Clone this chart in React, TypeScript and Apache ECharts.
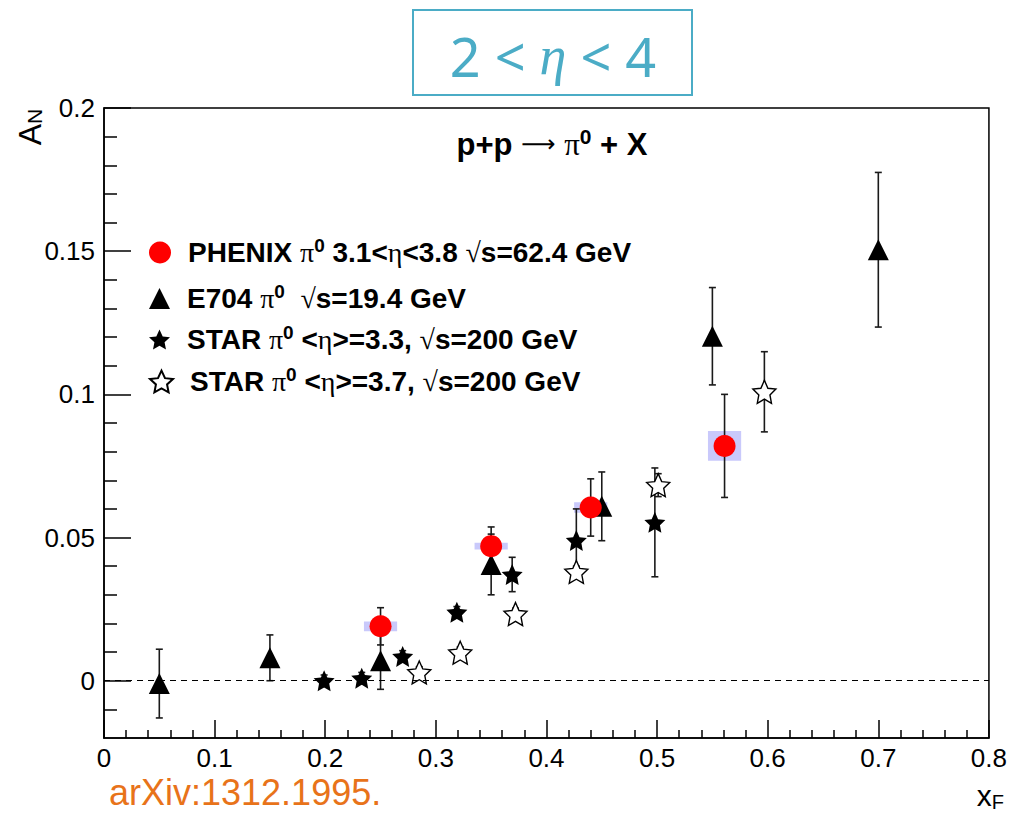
import React, { useEffect, useRef } from "react";
import * as echarts from "echarts";

// A_N versus x_F for forward pi0 production in polarized p+p collisions
const phenixPoints = [
  [0.25, 0.019],
  [0.35, 0.047],
  [0.44, 0.0605],
  [0.561, 0.082],
];
const phenixStatErr = [0.0065, 0.0067, 0.01, 0.018];
const phenixSysHalfWidth = [0.015, 0.015, 0.015, 0.015];
const phenixSysErr = [0.0017, 0.0012, 0.0018, 0.0052];

const e704Points = [
  [0.05, -0.001],
  [0.15, 0.008],
  [0.25, 0.007],
  [0.35, 0.0406],
  [0.45, 0.0609],
  [0.55, 0.1203],
  [0.7, 0.1505],
];
const e704Err = [0.012, 0.008, 0.01, 0.0106, 0.012, 0.017, 0.027];

const star33Points = [
  [0.199, 0.0],
  [0.233, 0.0009],
  [0.27, 0.0085],
  [0.319, 0.0239],
  [0.369, 0.0371],
  [0.427, 0.049],
  [0.498, 0.0553],
];
const star33Err = [0.002, 0.002, 0.002, 0.002, 0.006, 0.011, 0.019];

const star37Points = [
  [0.285, 0.0029],
  [0.322, 0.0098],
  [0.372, 0.0233],
  [0.427, 0.038],
  [0.501, 0.0683],
  [0.597, 0.1009],
];
const star37Err = [0.002, 0.002, 0.002, 0.002, 0.004, 0.014];

const yMajorTicks = [0, 0.05, 0.1, 0.15, 0.2];
const yMinorTicks = [
  -0.01, 0.01, 0.02, 0.03, 0.04, 0.06, 0.07, 0.08, 0.09, 0.11, 0.12, 0.13,
  0.14, 0.16, 0.17, 0.18, 0.19,
];

const STAR_PATH =
  "path://M0,-10L2.9,-3.7L9.511,-3.09L4.6,1.5L5.878,8.09L0,4.8L-5.878,8.09L-4.6,1.5L-9.511,-3.09L-2.9,-3.7Z";

const SANS = "'Liberation Sans', Arial, Helvetica, sans-serif";
const SERIF = "'Liberation Serif', 'DejaVu Serif', serif";
const TITLE_BLUE = "#4bacc6";

const legendRich = {
  b: { fontFamily: SANS, fontWeight: "bold", fontSize: 28, color: "#000" },
  g: { fontFamily: SERIF, fontWeight: "normal", fontSize: 28, color: "#000" },
  s: {
    fontFamily: SANS,
    fontWeight: "bold",
    fontSize: 19,
    color: "#000",
    padding: [0, 0, 14, 0],
  },
};

const legendRows = [
  {
    name: "PHENIX",
    icon: "circle",
    size: 22,
    top: 236,
    label: "{b|PHENIX }{g|π}{s|0}{b| 3.1<}{g|η}{b|<3.8 }{g|√}{b|s=62.4 GeV}",
  },
  {
    name: "E704",
    icon: "triangle",
    size: 21,
    top: 282,
    label: "{b|E704 }{g|π}{s|0}{b|  }{g|√}{b|s=19.4 GeV}",
  },
  {
    name: "STAR33",
    icon: STAR_PATH,
    size: 21,
    top: 323,
    label: "{b|STAR }{g|π}{s|0}{b| <}{g|η}{b|>=3.3, }{g|√}{b|s=200 GeV}",
  },
  {
    name: "STAR37",
    icon: STAR_PATH,
    size: 23,
    top: 365,
    label: "{b|STAR }{g|π}{s|0}{b| <}{g|η}{b|>=3.7, }{g|√}{b|s=200 GeV}",
  },
];

function errorBars(name: string, pts: number[][], errs: number[]) {
  return {
    type: "custom",
    name,
    silent: true,
    encode: { x: 0, y: 1 },
    data: pts.map((p, i) => [p[0], p[1], errs[i]]),
    renderItem: (_params: any, api: any) => {
      const x = api.value(0);
      const y = api.value(1);
      const e = api.value(2);
      const top = api.coord([x, y + e]);
      const bot = api.coord([x, y - e]);
      const cap = 3.5;
      const st = { stroke: "#1a1a1a", lineWidth: 1.6 };
      return {
        type: "group",
        children: [
          { type: "line", shape: { x1: top[0], y1: top[1], x2: bot[0], y2: bot[1] }, style: st },
          { type: "line", shape: { x1: top[0] - cap, y1: top[1], x2: top[0] + cap, y2: top[1] }, style: st },
          { type: "line", shape: { x1: bot[0] - cap, y1: bot[1], x2: bot[0] + cap, y2: bot[1] }, style: st },
        ],
      };
    },
  };
}

export default function App() {
  const ref = useRef<HTMLDivElement>(null);

  useEffect(() => {
    if (!ref.current) return;
    const chart = echarts.init(ref.current, undefined, { renderer: "svg" });

    const option: any = {
      animation: false,
      backgroundColor: "#fff",
      grid: {
        left: 104,
        right: 18,
        top: 108,
        bottom: 75,
        show: true,
        borderColor: "#000",
        borderWidth: 1.5,
        backgroundColor: "transparent",
      },
      xAxis: {
        type: "value",
        min: 0,
        max: 0.8,
        interval: 0.1,
        axisLine: { show: true, onZero: false, lineStyle: { color: "#000", width: 1.5 } },
        axisTick: { show: true, inside: true, length: 18, lineStyle: { color: "#000", width: 1.5 } },
        minorTick: { show: true, splitNumber: 5, length: 8, lineStyle: { color: "#000", width: 1.5 } },
        splitLine: { show: false },
        minorSplitLine: { show: false },
        axisLabel: {
          color: "#000",
          fontFamily: SANS,
          fontSize: 26,
          margin: 7,
          formatter: (v: number) => String(Math.round(v * 10) / 10),
        },
      },
      yAxis: [
        {
          type: "value",
          min: -0.02,
          max: 0.2,
          axisLine: { show: true, onZero: false, lineStyle: { color: "#000", width: 1.5 } },
          axisTick: {
            show: true,
            inside: true,
            length: 27,
            customValues: yMajorTicks,
            lineStyle: { color: "#000", width: 1.5 },
          },
          splitLine: { show: false },
          axisLabel: {
            color: "#000",
            fontFamily: SANS,
            fontSize: 26,
            margin: 9,
            customValues: yMajorTicks,
            formatter: (v: number) => String(Math.round(v * 100) / 100),
          },
        },
        {
          type: "value",
          min: -0.02,
          max: 0.2,
          position: "left",
          axisLine: { show: false, onZero: false },
          axisTick: {
            show: true,
            inside: true,
            length: 13,
            customValues: yMinorTicks,
            lineStyle: { color: "#000", width: 1.5 },
          },
          splitLine: { show: false },
          axisLabel: { show: false },
        },
      ],
      legend: legendRows.map((row) => ({
        data: [{ name: row.name, icon: row.icon }],
        left: 149,
        top: row.top,
        orient: "vertical",
        itemWidth: row.size,
        itemHeight: row.size,
        selectedMode: false,
        padding: 0,
        formatter: () => row.label,
        textStyle: { padding: [0, 0, 0, 12], rich: legendRich },
      })),
      graphic: [
        {
          type: "rect",
          shape: { x: 413, y: 10, width: 279, height: 85 },
          style: { fill: "none", stroke: TITLE_BLUE, lineWidth: 2 },
        },
        {
          type: "text",
          x: 553,
          y: 56,
          style: {
            text: "{n|2 < }{e|η}{n| < 4}",
            fill: TITLE_BLUE,
            align: "center",
            verticalAlign: "middle",
            rich: {
              n: { fontFamily: "'Noto Sans', 'Open Sans', sans-serif", fontSize: 54, fill: TITLE_BLUE },
              e: { fontFamily: SERIF, fontStyle: "italic", fontSize: 54, fill: TITLE_BLUE },
            },
          },
        },
        {
          type: "text",
          x: 552,
          y: 144,
          style: {
            text: "{b|p+p }{a|⟶}{b| }{g|π}{s|0}{b| + X}",
            fill: "#000",
            align: "center",
            verticalAlign: "middle",
            rich: {
              b: { fontFamily: SANS, fontWeight: "bold", fontSize: 31, fill: "#000" },
              a: { fontFamily: "'DejaVu Sans', sans-serif", fontSize: 24, fill: "#000" },
              g: { fontFamily: SERIF, fontSize: 31, fill: "#000" },
              s: { fontFamily: SANS, fontWeight: "bold", fontSize: 21, fill: "#000", padding: [0, 0, 16, 0] },
            },
          },
        },
        {
          type: "text",
          x: 30,
          y: 127,
          rotation: Math.PI / 2,
          style: {
            text: "{a|A}{n|N}",
            fill: "#000",
            align: "center",
            verticalAlign: "middle",
            rich: {
              a: { fontFamily: SANS, fontSize: 32, fill: "#000" },
              n: { fontFamily: SANS, fontSize: 21, fill: "#000", padding: [8, 0, 0, 0] },
            },
          },
        },
        {
          type: "text",
          x: 1004,
          y: 795,
          style: {
            text: "{a|x}{f|F}",
            fill: "#000",
            align: "right",
            verticalAlign: "middle",
            rich: {
              a: { fontFamily: SANS, fontSize: 30, fill: "#000" },
              f: { fontFamily: SANS, fontSize: 20, fill: "#000", padding: [14, 0, 0, 0] },
            },
          },
        },
        {
          type: "text",
          x: 109,
          y: 792,
          style: {
            text: "arXiv:1312.1995.",
            fill: "#e8731a",
            font: "36px 'Liberation Sans', Arial, sans-serif",
            align: "left",
            verticalAlign: "middle",
          },
        },
      ],
      series: [
        {
          type: "custom",
          name: "PHENIX sys",
          silent: true,
          encode: { x: 0, y: 1 },
          data: phenixPoints.map((p, i) => [p[0], p[1], phenixSysHalfWidth[i], phenixSysErr[i]]),
          renderItem: (_params: any, api: any) => {
            const x = api.value(0);
            const y = api.value(1);
            const dx = api.value(2);
            const dy = api.value(3);
            const a = api.coord([x - dx, y + dy]);
            const b = api.coord([x + dx, y - dy]);
            return {
              type: "rect",
              shape: { x: a[0], y: a[1], width: b[0] - a[0], height: b[1] - a[1] },
              style: { fill: "#c9c9fb" },
            };
          },
          markLine: {
            silent: true,
            symbol: "none",
            label: { show: false },
            lineStyle: { color: "#000", type: [6, 5], width: 1.2 },
            data: [{ yAxis: 0 }],
          },
        },
        errorBars("E704 err", e704Points, e704Err),
        {
          type: "scatter",
          name: "E704",
          data: e704Points,
          symbol: "triangle",
          symbolSize: 21,
          itemStyle: { color: "#000", opacity: 1 },
        },
        errorBars("STAR33 err", star33Points, star33Err),
        {
          type: "scatter",
          name: "STAR33",
          data: star33Points,
          symbol: STAR_PATH,
          symbolSize: 21,
          itemStyle: { color: "#000", opacity: 1 },
        },
        errorBars("STAR37 err", star37Points, star37Err),
        {
          type: "scatter",
          name: "STAR37",
          data: star37Points,
          symbol: STAR_PATH,
          symbolSize: 23,
          itemStyle: { color: "#fff", borderColor: "#000", borderWidth: 1.4, opacity: 1 },
        },
        errorBars("PHENIX err", phenixPoints, phenixStatErr),
        {
          type: "scatter",
          name: "PHENIX",
          data: phenixPoints,
          symbol: "circle",
          symbolSize: 22,
          itemStyle: { color: "#ff0000", opacity: 1 },
        },
      ],
    };

    chart.setOption(option);
    return () => chart.dispose();
  }, []);

  return (
    <div
      ref={ref}
      style={{ position: "fixed", left: 0, top: 0, width: 1010, height: 813, background: "#fff" }}
    />
  );
}
